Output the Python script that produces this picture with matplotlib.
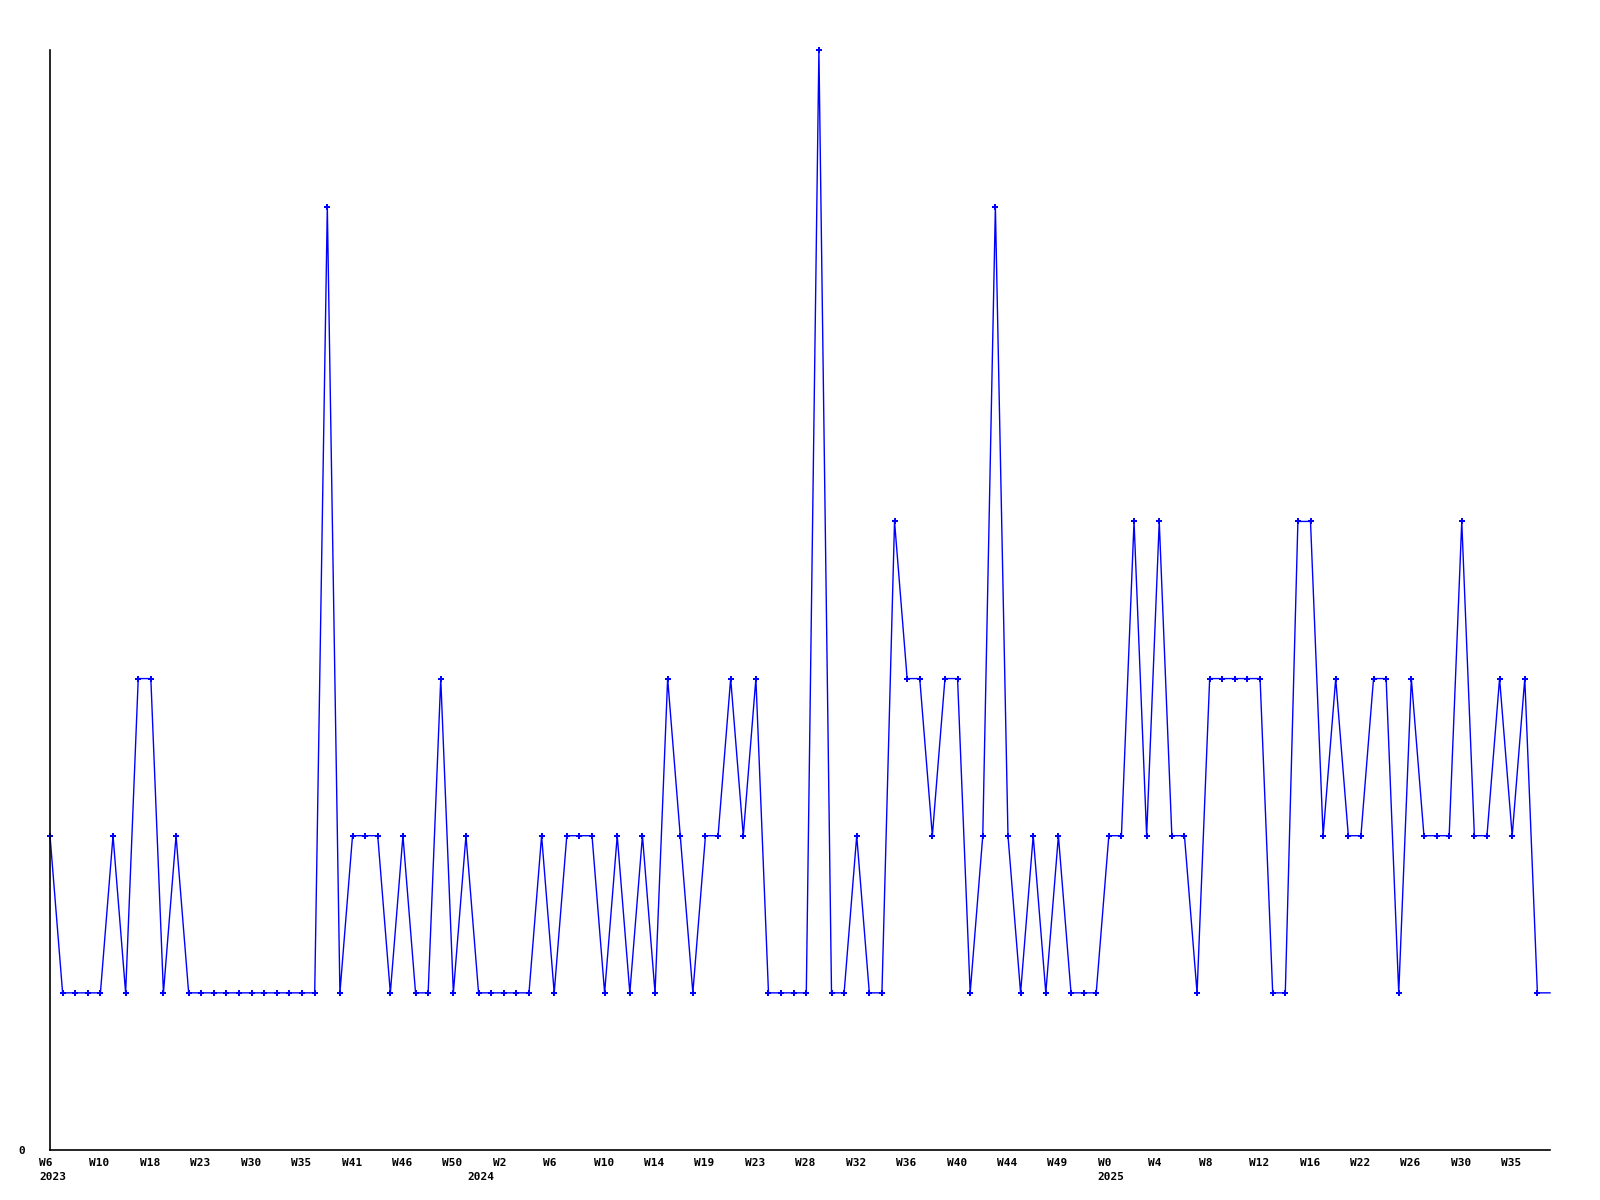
import matplotlib
matplotlib.use("Agg")
import matplotlib.pyplot as plt
import matplotlib.transforms as mtransforms

# weekly counts, 2023 W6 onwards
values = [
    2, 1, 1, 1, 1, 2, 1, 3, 3, 1,
    2, 1, 1, 1, 1, 1, 1, 1, 1, 1,
    1, 1, 6, 1, 2, 2, 2, 1, 2, 1,
    1, 3, 1, 2, 1, 1, 1, 1, 1, 2,
    1, 2, 2, 2, 1, 2, 1, 2, 1, 3,
    2, 1, 2, 2, 3, 2, 3, 1, 1, 1,
    1, 7, 1, 1, 2, 1, 1, 4, 3, 3,
    2, 3, 3, 1, 2, 6, 2, 1, 2, 1,
    2, 1, 1, 1, 2, 2, 4, 2, 4, 2,
    2, 1, 3, 3, 3, 3, 3, 1, 1, 4,
    4, 2, 3, 2, 2, 3, 3, 1, 3, 2,
    2, 2, 4, 2, 2, 3, 2, 3, 1, 1,
]

week_labels = [
    "W6", "W10", "W18", "W23", "W30", "W35", "W41", "W46", "W50", "W2",
    "W6", "W10", "W14", "W19", "W23", "W28", "W32", "W36", "W40", "W44",
    "W49", "W0", "W4", "W8", "W12", "W16", "W22", "W26", "W30", "W35",
]
label_step = 4
# index of the first point of each year
year_starts = [0, 34, 84]
years = ["2023", "2024", "2025"]

x = list(range(len(values)))

fig = plt.figure(figsize=(16, 12), dpi=100)
ax = fig.add_axes([50 / 1600, 50 / 1200, 1500 / 1600, 1100 / 1200])

ax.plot(x, values, color="#0000ff", lw=1.0, marker="P", markersize=4.5,
        markeredgewidth=0, markevery=list(range(len(values) - 1)),
        clip_on=False)

ax.set_xlim(0, len(values) - 1)
ax.set_ylim(0, max(values))

for side in ["top", "right"]:
    ax.spines[side].set_visible(False)
for side in ["left", "bottom"]:
    ax.spines[side].set_linewidth(1.2)
    ax.spines[side].set_color("black")

font = dict(family="DejaVu Sans Mono", weight="bold", size=8)

ticks = [i * label_step for i in range(len(week_labels))]
ax.set_xticks(ticks)
ax.set_xticklabels(week_labels, ha="left", **font)
ax.tick_params(axis="x", length=0, pad=6)
shift = mtransforms.ScaledTranslation(-11 / 100, 0, fig.dpi_scale_trans)
for lbl in ax.get_xticklabels():
    lbl.set_transform(lbl.get_transform() + shift)

# year labels sit on a second row, under the first week of each year
year_tr = (ax.get_xaxis_transform()
           + mtransforms.ScaledTranslation(-11 / 100, -22 / 100, fig.dpi_scale_trans))
for xi, yr in zip(year_starts, years):
    ax.text(xi, 0, yr, transform=year_tr, ha="left", va="top", **font)

ax.set_yticks([0])
ax.set_yticklabels(["0"], **font)
ax.tick_params(axis="y", length=0, pad=18)

fig.savefig("out.png", dpi=100, facecolor="white")
